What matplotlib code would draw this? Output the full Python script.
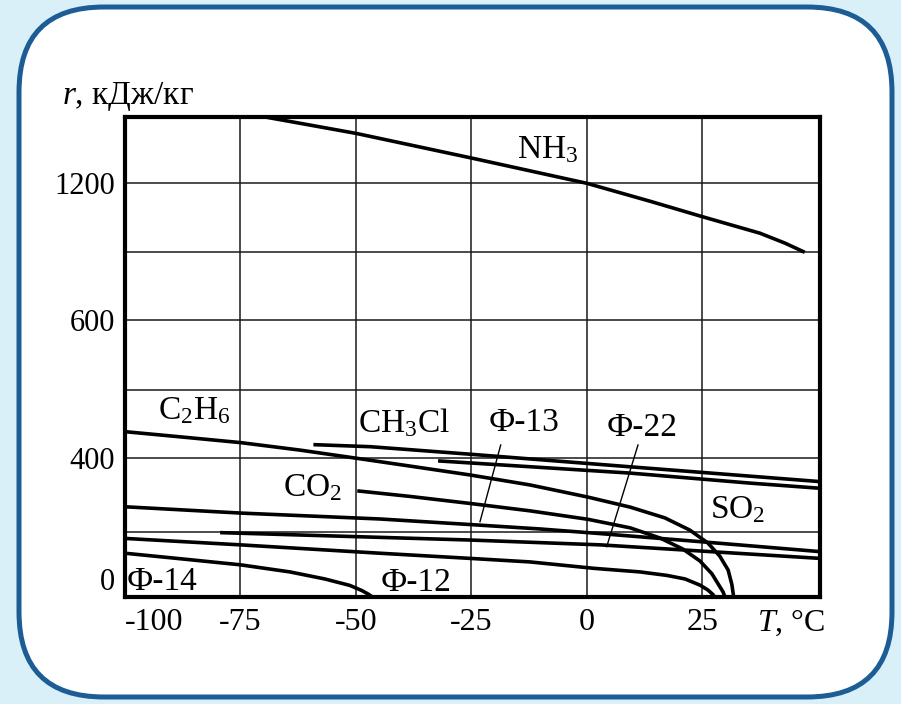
import numpy as np
import matplotlib
matplotlib.use('Agg')
import matplotlib.pyplot as plt
from matplotlib.patches import FancyBboxPatch

plt.rcParams['font.family'] = ['Liberation Serif', 'DejaVu Serif']
plt.rcParams['mathtext.fontset'] = 'custom'
plt.rcParams['mathtext.rm'] = 'Liberation Serif'
plt.rcParams['mathtext.it'] = 'Liberation Serif:italic'

# ---------------- data (T in °C, r in kJ/kg) ----------------
nh3_T = [-70, -50, -25, 0, 13.7, 25, 37.5, 42.9, 47.2]
nh3_r = [1500, 1425, 1314, 1200, 1122, 1055, 983, 940, 900]

c2h6_T = [-100, -87.4, -75, -62.1, -49.8, -38.3, -25.3, -12.3, 0.3, 9.4, 16.9,
          22.3, 26.2, 28.8, 30.6, 31.4, 31.8]
c2h6_r = [439, 431, 423, 412, 400, 379, 355, 328, 295, 268, 239, 206, 167,
          126, 83, 39, 0]

co2_T = [-49.7, -38.3, -25.3, -12.3, 0.3, 9.4, 15.9, 20.8, 24.5, 27.1, 28.6,
         29.5, 29.9]
co2_r = [312, 297, 278, 258, 235, 212, 182, 148, 111, 71, 36, 15, 0]

f12_T = [-100, -75, -44.8, -25.3, -12.3, 1.6, 11.5, 17.4, 21.3, 24.5, 26.2,
         27.3, 27.65]
f12_r = [181, 161, 135, 119, 108, 88, 77, 66, 55, 36, 21, 7, 0]

f13_T = [-100, -75, -44.8, -25.3, -10.1, 2.9, 24.5, 50.5]
f13_r = [269, 252, 236, 221, 209, 196, 171, 140]

f22_T = [-79.4, -25.3, 2.9, 24.5, 50.5]
f22_r = [199, 176, 161, 142, 119]

ch3cl_T = [-59.2, -46.9, -25.3, 9.4, 50.5]
ch3cl_r = [420, 417, 406, 377, 337]

so2_T = [-32.2, 9.4, 35.3, 50.5]
so2_r = [393, 360, 333, 319]

f14_T = [-100, -87.4, -75, -64.3, -56.7, -51.3, -48.7, -47.2, -46.5]
f14_r = [135, 117, 99, 77, 55, 35, 19, 7, 0]

x_ticks = [-100, -75, -50, -25, 0, 25]
x_ticklabels = ['-100', '-75', '-50', '-25', '0', '25']
y_ticks = [0, 400, 600, 1200]
y_ticklabels = ['0', '400', '600', '1200']
y_grid_extra = [200, 500, 900]

# piecewise-linear (broken) r axis of the original chart
y_break_vals = [0, 200, 400, 500, 600, 900, 1200, 1500]
y_break_pos = [0, 64.4, 138.4, 206.7, 276.7, 344.4, 413.4, 480]


def fwd(v):
    return np.interp(v, y_break_vals, y_break_pos)


def inv(p):
    return np.interp(p, y_break_pos, y_break_vals)


W, H = 901, 704
fig = plt.figure(figsize=(W / 100, H / 100), dpi=100)
fig.patch.set_facecolor('#d9f0f9')

bg = fig.add_axes([0, 0, 1, 1])
bg.set_xlim(0, W)
bg.set_ylim(H, 0)
bg.axis('off')
bg.add_patch(FancyBboxPatch((19, 7), 873, 690,
                            boxstyle='round,pad=0,rounding_size=85',
                            fc='white', ec='#1d5d96', lw=3.6))

L, R, T, B = 125, 820, 116.7, 596.7
ax = fig.add_axes([L / W, (H - B) / H, (R - L) / W, (B - T) / H])
ax.set_yscale('function', functions=(fwd, inv))
ax.set_xlim(-100, 50.5)
ax.set_ylim(0, 1500)
ax.set_facecolor('white')

ax.set_xticks(x_ticks)
ax.set_xticklabels(x_ticklabels)
ax.set_yticks(y_ticks)
ax.set_yticklabels(y_ticklabels)
ax.set_yticks(y_grid_extra, minor=True)
ax.xaxis.set_minor_locator(plt.NullLocator())
ax.tick_params(which='both', length=0)
ax.tick_params(axis='y', labelsize=22, pad=7)
ax.tick_params(axis='x', labelsize=23, pad=8)
ax.grid(which='both', color='#1a1a1a', lw=1.1)
ax.set_axisbelow(True)
for s in ax.spines.values():
    s.set_linewidth(3.0)
    s.set_color('black')

xl = ax.get_xticklabels()
xl[0].set_ha('left')
yl = ax.get_yticklabels()
yl[0].set_va('bottom')

lw = 2.6
for Tv, rv in [(nh3_T, nh3_r), (c2h6_T, c2h6_r), (co2_T, co2_r), (f12_T, f12_r),
               (f13_T, f13_r), (f22_T, f22_r), (ch3cl_T, ch3cl_r), (so2_T, so2_r),
               (f14_T, f14_r)]:
    ax.plot(Tv, rv, color='black', lw=lw, solid_capstyle='butt',
            solid_joinstyle='round', zorder=3)


def apos(px, py):
    return ((px - L) / (R - L), (B - py) / (B - T))


labels = [
    ('NH$_3$', 517, 158),
    ('C$_2$H$_6$', 158, 419),
    ('CH$_3$Cl', 358, 432),
    ('Ф-13', 489, 431),
    ('Ф-22', 607, 436),
    ('CO$_2$', 283, 496),
    ('SO$_2$', 710, 518),
    ('Ф-14', 127, 590),
    ('Ф-12', 381, 591),
]
for txt, px, py in labels:
    x, y = apos(px, py)
    ax.text(x, y, txt, transform=ax.transAxes, fontsize=24, ha='left',
            va='baseline', zorder=4)

for (x0, y0), (x1, y1) in [((500.7, 445), (480, 521.7)), ((638, 445), (606.7, 546.7))]:
    a0 = apos(x0, y0)
    a1 = apos(x1, y1)
    ax.plot([a0[0], a1[0]], [a0[1], a1[1]], transform=ax.transAxes,
            color='black', lw=1.0, zorder=4)

fig.text(62 / W, 1 - 104 / H, '$r$, кДж/кг', fontsize=24, ha='left', va='baseline')
fig.text(757 / W, 1 - 631 / H, '$T$, °C', fontsize=23, ha='left', va='baseline')

fig.savefig('out.png', dpi=100, facecolor=fig.get_facecolor())
